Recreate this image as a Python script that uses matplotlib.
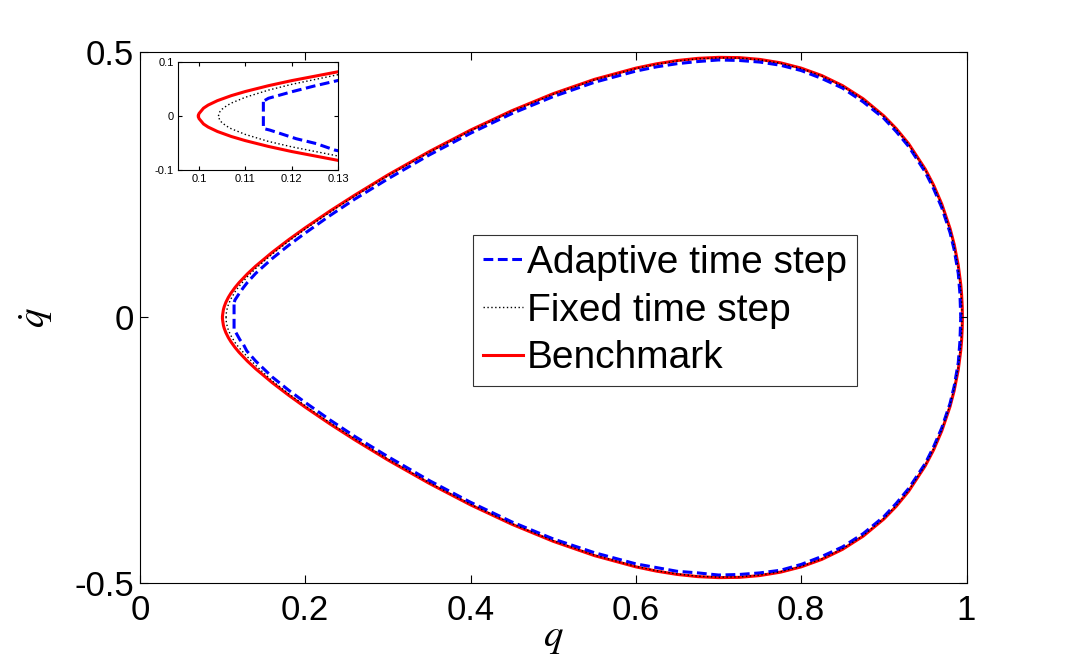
"""Phase portrait (q vs q-dot) of one orbit: adaptive time step, fixed time step
and the benchmark solution, with an inset zoomed on the left turning point."""

import numpy as np
import matplotlib
matplotlib.use("Agg")
import matplotlib.pyplot as plt

plt.rcParams["font.family"] = ["Liberation Sans", "DejaVu Sans"]
plt.rcParams["mathtext.fontset"] = "stix"
plt.rcParams["axes.unicode_minus"] = False

# benchmark (red), upper half left -> right, lower half right -> left
BENCH_Q_UP = [0.0999, 0.100, 0.101, 0.102, 0.104, 0.107, 0.110, 0.115, 0.120, 0.130,
              0.140, 0.160, 0.180, 0.200, 0.230, 0.260, 0.300, 0.350, 0.400, 0.450,
              0.500, 0.550, 0.600, 0.625, 0.650, 0.675, 0.700, 0.725, 0.750, 0.775,
              0.800, 0.825, 0.850, 0.875, 0.900, 0.915, 0.930, 0.950, 0.960, 0.970,
              0.980, 0.985, 0.990, 0.993, 0.994, 0.9948, 0.995]
BENCH_QD_UP = [0.0, 0.0044, 0.0147, 0.0204, 0.0286, 0.0379, 0.0455, 0.0563, 0.0657, 0.0821,
               0.0966, 0.1227, 0.1465, 0.1689, 0.2006, 0.2305, 0.2684, 0.3124, 0.3529, 0.3894,
               0.4215, 0.4485, 0.4696, 0.4777, 0.4839, 0.4880, 0.4899, 0.4894, 0.4860, 0.4796,
               0.4696, 0.4555, 0.4366, 0.4118, 0.3795, 0.3555, 0.3271, 0.2795, 0.2498, 0.2138,
               0.1678, 0.1379, 0.0981, 0.0623, 0.0441, 0.0196, 0.0]
BENCH_Q_LO = [0.995, 0.9948, 0.994, 0.993, 0.990, 0.985, 0.980, 0.970, 0.960, 0.950,
              0.930, 0.915, 0.900, 0.875, 0.850, 0.825, 0.800, 0.775, 0.750, 0.725,
              0.700, 0.675, 0.650, 0.625, 0.600, 0.550, 0.500, 0.450, 0.400, 0.350,
              0.300, 0.260, 0.230, 0.200, 0.180, 0.160, 0.140, 0.130, 0.120, 0.115,
              0.110, 0.107, 0.104, 0.102, 0.101, 0.100, 0.0999]
BENCH_QD_LO = [0.0, -0.0196, -0.0441, -0.0623, -0.0981, -0.1379, -0.1678, -0.2138, -0.2498, -0.2795,
               -0.3271, -0.3555, -0.3795, -0.4118, -0.4366, -0.4555, -0.4696, -0.4796, -0.4860, -0.4894,
               -0.4899, -0.4880, -0.4839, -0.4777, -0.4696, -0.4485, -0.4215, -0.3894, -0.3529, -0.3124,
               -0.2684, -0.2305, -0.2006, -0.1689, -0.1465, -0.1227, -0.0966, -0.0821, -0.0657, -0.0563,
               -0.0455, -0.0379, -0.0286, -0.0204, -0.0147, -0.0044, 0.0]

# fixed time step (black dotted)
FIXED_Q_UP = [0.1042, 0.1045, 0.105, 0.106, 0.107, 0.110, 0.115, 0.120, 0.130, 0.140,
              0.160, 0.180, 0.200, 0.230, 0.260, 0.300, 0.350, 0.400, 0.450, 0.500,
              0.550, 0.600, 0.625, 0.650, 0.675, 0.700, 0.725, 0.750, 0.775, 0.800,
              0.825, 0.850, 0.875, 0.900, 0.915, 0.930, 0.950, 0.960, 0.970, 0.980,
              0.985, 0.990, 0.993, 0.994, 0.9945, 0.9946]
FIXED_QD_UP = [0.0, 0.0078, 0.0128, 0.0192, 0.0241, 0.0348, 0.0481, 0.0588, 0.0767, 0.0921,
               0.1192, 0.1436, 0.1663, 0.1984, 0.2287, 0.2668, 0.3111, 0.3517, 0.3883, 0.4204,
               0.4475, 0.4687, 0.4768, 0.4830, 0.4871, 0.4890, 0.4885, 0.4851, 0.4787, 0.4687,
               0.4546, 0.4356, 0.4107, 0.3784, 0.3543, 0.3257, 0.2780, 0.2480, 0.2118, 0.1652,
               0.1347, 0.0936, 0.0549, 0.0329, 0.0105, 0.0]
FIXED_Q_LO = [0.9946, 0.9945, 0.994, 0.993, 0.990, 0.985, 0.980, 0.970, 0.960, 0.950,
              0.930, 0.915, 0.900, 0.875, 0.850, 0.825, 0.800, 0.775, 0.750, 0.725,
              0.700, 0.675, 0.650, 0.625, 0.600, 0.550, 0.500, 0.450, 0.400, 0.350,
              0.300, 0.260, 0.230, 0.200, 0.180, 0.160, 0.140, 0.130, 0.120, 0.115,
              0.110, 0.107, 0.106, 0.105, 0.1045, 0.1042]
FIXED_QD_LO = [0.0, -0.0105, -0.0329, -0.0549, -0.0936, -0.1347, -0.1652, -0.2118, -0.2480, -0.2780,
               -0.3257, -0.3543, -0.3784, -0.4107, -0.4356, -0.4546, -0.4687, -0.4787, -0.4851, -0.4885,
               -0.4890, -0.4871, -0.4830, -0.4768, -0.4687, -0.4475, -0.4204, -0.3883, -0.3517, -0.3111,
               -0.2668, -0.2287, -0.1984, -0.1663, -0.1436, -0.1192, -0.0900, -0.0740, -0.0570, -0.0470,
               -0.0340, -0.0236, -0.0188, -0.0125, -0.0077, 0.0]

# adaptive time step (blue dashed): round the orbit, then the short vertical step at q~0.114
ADAPT_Q_UP = [0.1142, 0.115, 0.120, 0.125, 0.130, 0.140, 0.160, 0.180, 0.200, 0.230,
              0.260, 0.300, 0.350, 0.400, 0.450, 0.500, 0.550, 0.600, 0.625, 0.650,
              0.675, 0.700, 0.725, 0.750, 0.775, 0.800, 0.825, 0.850, 0.875, 0.900,
              0.915, 0.930, 0.950, 0.960, 0.970, 0.980, 0.985, 0.990, 0.992, 0.993]
ADAPT_QD_UP = [0.029, 0.033, 0.045, 0.056, 0.066, 0.083, 0.111, 0.136, 0.159, 0.192,
               0.223, 0.261, 0.306, 0.347, 0.384, 0.416, 0.443, 0.464, 0.472, 0.478,
               0.482, 0.485, 0.484, 0.481, 0.475, 0.465, 0.450, 0.432, 0.406, 0.375,
               0.350, 0.322, 0.274, 0.243, 0.207, 0.160, 0.128, 0.083, 0.045, 0.0]
ADAPT_Q_LO = [0.992, 0.990, 0.985, 0.980, 0.970, 0.960, 0.950, 0.930, 0.915, 0.900,
              0.875, 0.850, 0.825, 0.800, 0.775, 0.750, 0.725, 0.700, 0.675, 0.650,
              0.625, 0.600, 0.550, 0.500, 0.450, 0.400, 0.350, 0.300, 0.260, 0.230,
              0.200, 0.180, 0.160, 0.140, 0.1293, 0.1253, 0.121, 0.1153, 0.1139, 0.1139,
              0.1142]
ADAPT_QD_LO = [-0.045, -0.085, -0.130, -0.162, -0.208, -0.244, -0.275, -0.322, -0.350, -0.375,
               -0.407, -0.432, -0.450, -0.465, -0.476, -0.481, -0.484, -0.485, -0.481, -0.478,
               -0.471, -0.464, -0.443, -0.417, -0.385, -0.348, -0.307, -0.262, -0.224, -0.193,
               -0.160, -0.137, -0.112, -0.082, -0.063, -0.051, -0.042, -0.026, -0.023, 0.029,
               0.029]

XTICKS = [0, 0.2, 0.4, 0.6, 0.8, 1]
XTICKLABELS = ["0", "0.2", "0.4", "0.6", "0.8", "1"]
YTICKS = [-0.5, 0, 0.5]
YTICKLABELS = ["-0.5", "0", "0.5"]
INSET_XTICKS = [0.1, 0.11, 0.12, 0.13]
INSET_XTICKLABELS = ["0.1", "0.11", "0.12", "0.13"]
INSET_YTICKS = [-0.1, 0, 0.1]
INSET_YTICKLABELS = ["-0.1", "0", "0.1"]


def draw_curves(ax):
    aq = np.concatenate([ADAPT_Q_UP, ADAPT_Q_LO])
    aqd = np.concatenate([ADAPT_QD_UP, ADAPT_QD_LO])
    fq = np.concatenate([FIXED_Q_UP, FIXED_Q_LO])
    fqd = np.concatenate([FIXED_QD_UP, FIXED_QD_LO])
    bq = np.concatenate([BENCH_Q_UP, BENCH_Q_LO])
    bqd = np.concatenate([BENCH_QD_UP, BENCH_QD_LO])
    ax.plot(aq, aqd, color="#0000ff", lw=2.2, ls=(0, (3.2, 1.5)),
            label="Adaptive time step", zorder=2)
    ax.plot(fq, fqd, color="black", lw=1.0, ls=(0, (1, 1.8)),
            label="Fixed time step", zorder=3)
    ax.plot(bq, bqd, color="#ff0000", lw=2.2, label="Benchmark", zorder=1)


def main():
    fig = plt.figure(figsize=(10.68, 6.58), dpi=100)
    ax = fig.add_axes([0.131, 0.114, 0.774, 0.807])
    draw_curves(ax)
    ax.set_xlim(0, 1)
    ax.set_ylim(-0.5, 0.5)
    ax.set_xticks(XTICKS)
    ax.set_xticklabels(XTICKLABELS)
    ax.set_yticks(YTICKS)
    ax.set_yticklabels(YTICKLABELS)
    ax.tick_params(direction="in", length=6, width=0.8, labelsize=25,
                   top=True, right=True)
    ax.tick_params(axis="x", pad=8)
    ax.tick_params(axis="y", pad=4)
    for s in ax.spines.values():
        s.set_linewidth(0.8)
    ax.set_xlabel(r"$q$", fontsize=28, labelpad=-5)
    ax.set_ylabel(r"$\dot{q}$", fontsize=28, labelpad=14)

    leg = ax.legend(loc="upper left", bbox_to_anchor=(0.4027, 0.655), fontsize=28,
                    frameon=True, fancybox=False, edgecolor="black", borderaxespad=0,
                    handlelength=1.05, handletextpad=0.1, borderpad=0.25,
                    labelspacing=0.3)
    leg.get_frame().set_linewidth(0.8)

    axin = fig.add_axes([0.1667, 0.7416, 0.1498, 0.164])
    draw_curves(axin)
    axin.set_xlim(0.0955, 0.13)
    axin.set_ylim(-0.1, 0.1)
    axin.set_xticks(INSET_XTICKS)
    axin.set_xticklabels(INSET_XTICKLABELS)
    axin.set_yticks(INSET_YTICKS)
    axin.set_yticklabels(INSET_YTICKLABELS)
    axin.tick_params(direction="in", length=3, width=0.8, labelsize=8,
                     top=True, right=True, pad=3)
    for s in axin.spines.values():
        s.set_linewidth(0.8)

    fig.savefig("out.png", dpi=100)


if __name__ == "__main__":
    main()
